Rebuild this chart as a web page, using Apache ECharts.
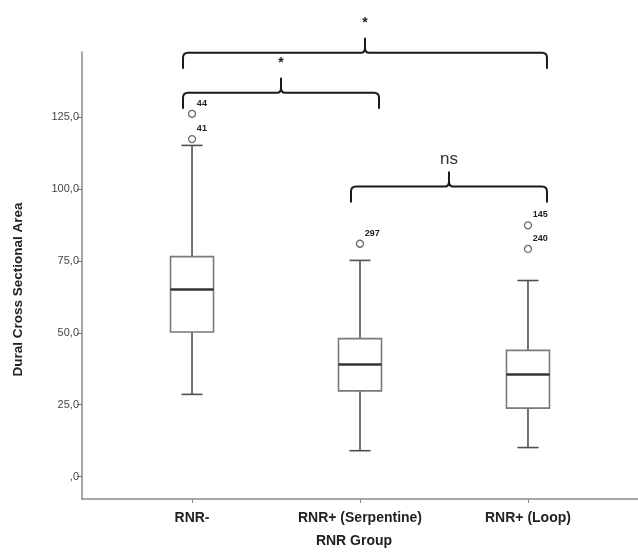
<!DOCTYPE html>
<html>
<head>
<meta charset="utf-8">
<script src="https://cdn.jsdelivr.net/npm/echarts@6/dist/echarts.min.js"></script>
<style>html,body{margin:0;padding:0;background:#fff;}#c{width:638px;height:553px;}</style>
</head>
<body>
<div id="c"></div>
<script>
// ---- data ----
var categories = ['RNR-', 'RNR+ (Serpentine)', 'RNR+ (Loop)'];
var whiskerLow = [28.6, 9.0, 10.1];
var q1 = [50.3, 29.8, 23.8];
var median = [65.1, 39.0, 35.5];
var q3 = [76.5, 48.0, 43.9];
var whiskerHigh = [115.2, 75.2, 68.2];

var outlierGroup = [1, 1, 2, 3, 3];
var outlierValue = [117.4, 126.2, 81.0, 87.4, 79.2];
var outlierId = ['41', '44', '297', '145', '240'];

var bracketFrom = [1, 1, 2];
var bracketTo = [3, 2, 3];
var bracketLevel = [147.4, 133.5, 100.9];
var bracketLabel = ['*', '*', 'ns'];

var yTicks = [0, 25, 50, 75, 100, 125];
var xTicks = [1, 2, 3];

// ---- build ----
var boxData = categories.map(function (c, i) {
  return [i + 1, whiskerLow[i], q1[i], median[i], q3[i], whiskerHigh[i]];
});
var outlierData = outlierGroup.map(function (g, i) {
  return { value: [g, outlierValue[i]], name: outlierId[i] };
});
var bracketData = bracketFrom.map(function (f, i) {
  return [f, bracketTo[i], bracketLevel[i]];
});

var chart = echarts.init(document.getElementById('c'), null, { renderer: 'canvas' });
var FONT = '"Liberation Sans", Arial, sans-serif';

chart.setOption({
  animation: false,
  backgroundColor: '#fff',
  grid: { left: 82, right: 0, top: 52, bottom: 53 },
  xAxis: {
    type: 'value',
    min: 0.345, max: 3.655,
    splitLine: { show: false },
    axisLine: { onZero: false, lineStyle: { color: '#8a8a8a', width: 1.5 } },
    axisTick: { show: true, customValues: xTicks, length: 4, lineStyle: { color: '#8a8a8a' } },
    axisLabel: {
      customValues: xTicks,
      formatter: function (v) { return categories[Math.round(v) - 1] || ''; },
      color: '#222', fontFamily: FONT, fontWeight: 'bold', fontSize: 14, margin: 12
    },
    name: 'RNR Group',
    nameLocation: 'middle',
    nameGap: 35,
    nameTextStyle: { color: '#222', fontFamily: FONT, fontWeight: 'bold', fontSize: 14, padding: [0, 12, 0, 0] }
  },
  yAxis: {
    type: 'value',
    min: -7.8, max: 147.7,
    splitLine: { show: false },
    axisLine: { show: true, onZero: false, lineStyle: { color: '#8a8a8a', width: 1.5 } },
    axisTick: { show: true, customValues: yTicks, length: 5, lineStyle: { color: '#777' } },
    axisLabel: {
      customValues: yTicks,
      formatter: function (v) { return v === 0 ? ',0' : v.toFixed(1).replace('.', ','); },
      color: '#444', fontFamily: FONT, fontSize: 11, margin: 3
    },
    name: 'Dural Cross Sectional Area',
    nameLocation: 'middle',
    nameGap: 57,
    nameRotate: 90,
    nameTextStyle: { color: '#222', fontFamily: FONT, fontWeight: 'bold', fontSize: 13.5, padding: [0, 28, 0, 0] }
  },
  series: [
    {
      type: 'custom',
      data: boxData,
      clip: false,
      renderItem: function (params, api) {
        var x = api.value(0);
        var pLow = api.coord([x, api.value(1)]);
        var pQ1 = api.coord([x, api.value(2)]);
        var pMed = api.coord([x, api.value(3)]);
        var pQ3 = api.coord([x, api.value(4)]);
        var pHigh = api.coord([x, api.value(5)]);
        var cx = pMed[0];
        var hw = 21.5, cw = 10.5;
        var wStyle = { stroke: '#505050', lineWidth: 1.6, fill: null };
        return {
          type: 'group',
          children: [
            { type: 'line', shape: { x1: cx, y1: pQ3[1], x2: cx, y2: pHigh[1] }, style: wStyle },
            { type: 'line', shape: { x1: cx, y1: pQ1[1], x2: cx, y2: pLow[1] }, style: wStyle },
            { type: 'line', shape: { x1: cx - cw, y1: pHigh[1], x2: cx + cw, y2: pHigh[1] }, style: wStyle },
            { type: 'line', shape: { x1: cx - cw, y1: pLow[1], x2: cx + cw, y2: pLow[1] }, style: wStyle },
            { type: 'rect', shape: { x: cx - hw, y: pQ3[1], width: 2 * hw, height: pQ1[1] - pQ3[1] },
              style: { fill: '#fff', stroke: '#7a7a7a', lineWidth: 1.6 } },
            { type: 'line', shape: { x1: cx - hw, y1: pMed[1], x2: cx + hw, y2: pMed[1] },
              style: { stroke: '#333', lineWidth: 2.4 } }
          ]
        };
      },
      z: 2
    },
    {
      type: 'scatter',
      data: outlierData,
      symbol: 'circle',
      symbolSize: 7,
      itemStyle: { color: '#fff', borderColor: '#6a6a6a', borderWidth: 1.3, opacity: 1 },
      label: {
        show: true,
        formatter: function (p) { return p.name; },
        position: [9, -11],
        color: '#222', fontFamily: FONT, fontWeight: 'bold', fontSize: 9
      },
      z: 3
    },
    {
      type: 'custom',
      data: bracketData,
      clip: false,
      renderItem: function (params, api) {
        var y = api.coord([1, api.value(2)])[1];
        var x1 = api.coord([api.value(0), 0])[0] - 9;
        var x2 = api.coord([api.value(1), 0])[0] + 19;
        var xm = (x1 + x2) / 2;
        var d = 'M' + x1 + ',' + (y + 16) + ' L' + x1 + ',' + (y + 5) +
          ' Q' + x1 + ',' + y + ' ' + (x1 + 5) + ',' + y +
          ' L' + (xm - 4) + ',' + y +
          ' Q' + xm + ',' + y + ' ' + xm + ',' + (y - 5) +
          ' L' + xm + ',' + (y - 15) +
          ' M' + xm + ',' + (y - 5) +
          ' Q' + xm + ',' + y + ' ' + (xm + 4) + ',' + y +
          ' L' + (x2 - 5) + ',' + y +
          ' Q' + x2 + ',' + y + ' ' + x2 + ',' + (y + 5) +
          ' L' + x2 + ',' + (y + 16);
        var lab = bracketLabel[params.dataIndex];
        var isStar = lab === '*';
        return {
          type: 'group',
          children: [
            { type: 'path', shape: { pathData: d }, style: { stroke: '#1a1a1a', lineWidth: 2, fill: null } },
            { type: 'text', x: xm, y: isStar ? (y - 30) : (y - 27),
              style: { text: lab, align: 'center', verticalAlign: 'middle',
                fill: isStar ? '#222' : '#333', fontFamily: FONT,
                fontSize: isStar ? 14 : 17, fontWeight: isStar ? 'bold' : 'normal' } }
          ]
        };
      },
      z: 4
    }
  ]
});
</script>
</body>
</html>
